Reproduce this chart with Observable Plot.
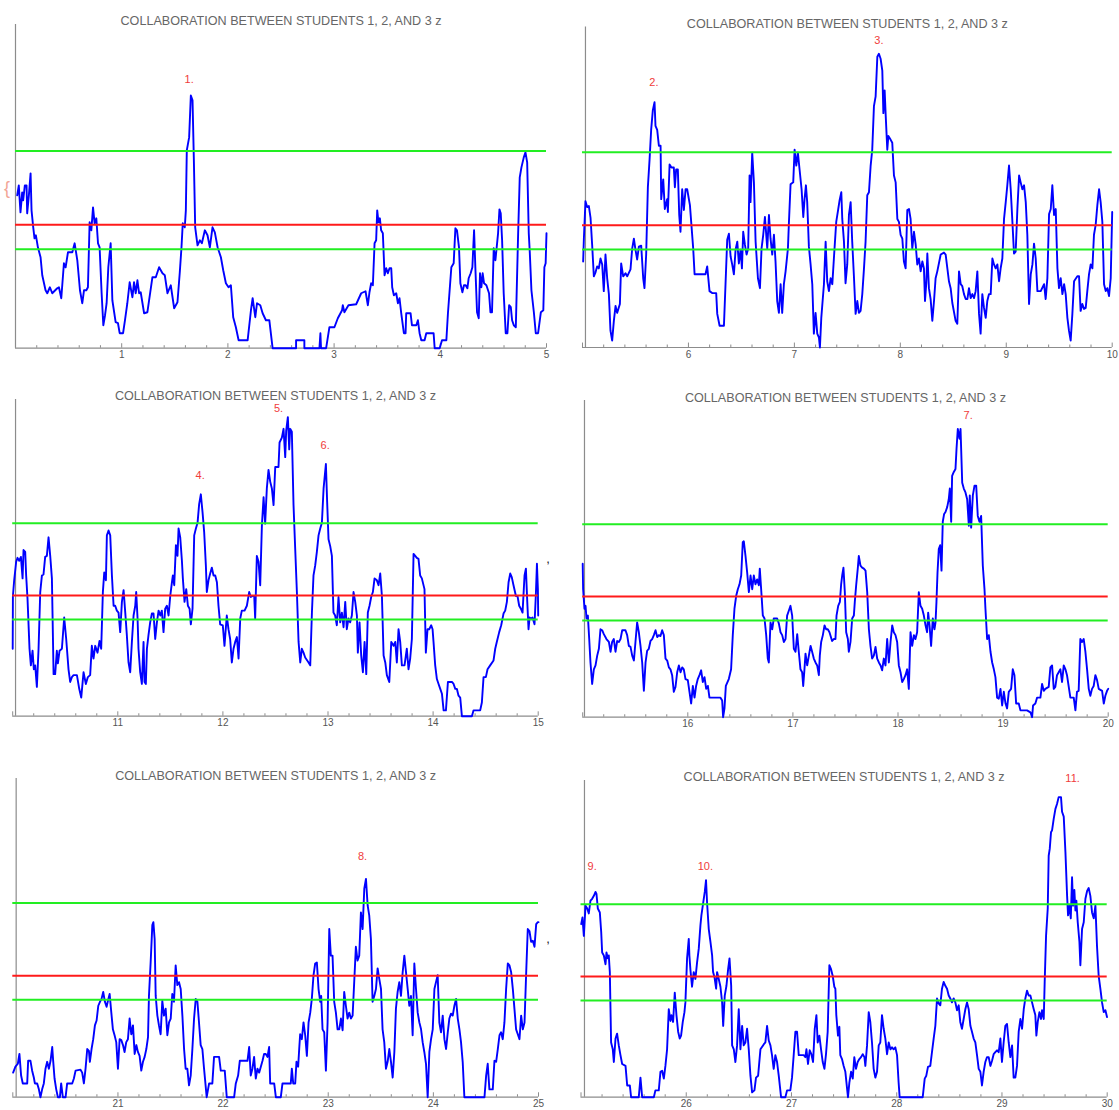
<!DOCTYPE html>
<html><head><meta charset="utf-8">
<script src="https://cdn.jsdelivr.net/npm/d3@7"></script>
<script src="https://cdn.jsdelivr.net/npm/@observablehq/plot@0.6"></script>
<style>
html,body{margin:0;padding:0;background:#fff;}
#root{position:relative;width:1119px;height:1110px;overflow:hidden;background:#fff;}
.panel{position:absolute;}
.panel svg{overflow:visible;}
.note{position:absolute;font-family:"Liberation Sans",Arial,sans-serif;line-height:1;transform:translate(-50%,-50%);}
</style></head><body><div id="root"></div>
<script>
const chartTitle = "COLLABORATION BETWEEN STUDENTS 1, 2, AND 3 z";
const greenLevels = [0.99, 1.975];
const redLevels = [1.235];
const yMax = 3.24;

const xRanges = [[0,5],[5,10],[10,15],[15,20],[20,25],[25,30]];
const yAxisAt = [0, 5.028, 10.027, 15.017, 20.032, 25.033];
const tickLabels = [[1,2,3,4,5],[6,7,8,9,10],[11,12,13,14,15],[16,17,18,19,20],[21,22,23,24,25],[26,27,28,29,30]];

const peakText = ["1.","2.","3.","4.","5.","6.","7.","8.","9.","10.","11."];
const peakPanel = [0,1,1,2,2,2,3,4,5,5,5];
const peakX = [1.635,5.674,7.798,11.784,12.529,12.973,18.668,23.327,25.106,26.182,29.671];
const peakY = [2.69,2.68,3.10,2.46,3.15,2.77,3.09,2.45,2.36,2.36,3.26];

const series1 = [[0.016,1.53],[0.031,1.63],[0.047,1.36],[0.063,1.56],[0.072,1.48],[0.088,1.63],[0.104,1.63],[0.110,1.35],[0.126,1.53],[0.142,1.75],[0.151,1.38],[0.167,1.21],[0.179,1.10],[0.192,1.13],[0.211,1.01],[0.236,0.91],[0.252,0.73],[0.283,0.58],[0.299,0.55],[0.324,0.61],[0.346,0.55],[0.393,0.60],[0.409,0.61],[0.431,0.50],[0.456,0.85],[0.472,0.81],[0.494,0.96],[0.535,0.96],[0.557,1.05],[0.582,0.88],[0.607,0.58],[0.629,0.45],[0.645,0.58],[0.667,0.58],[0.682,0.61],[0.698,1.26],[0.714,1.18],[0.730,1.41],[0.745,1.25],[0.761,1.30],[0.777,1.05],[0.792,1.01],[0.811,0.55],[0.827,0.23],[0.843,0.33],[0.858,0.45],[0.874,0.81],[0.896,1.05],[0.912,0.48],[0.943,0.26],[0.965,0.25],[0.981,0.15],[1.013,0.15],[1.031,0.28],[1.053,0.45],[1.075,0.66],[1.101,0.51],[1.116,0.66],[1.132,0.55],[1.148,0.68],[1.164,0.55],[1.179,0.56],[1.211,0.35],[1.242,0.36],[1.289,0.71],[1.321,0.71],[1.352,0.81],[1.384,0.75],[1.406,0.73],[1.431,0.55],[1.462,0.63],[1.494,0.40],[1.525,0.46],[1.547,0.76],[1.563,1.01],[1.575,1.25],[1.594,1.21],[1.604,1.38],[1.613,1.98],[1.635,2.11],[1.651,2.53],[1.667,2.48],[1.679,1.91],[1.692,1.21],[1.714,1.03],[1.736,1.08],[1.755,1.05],[1.783,1.18],[1.808,1.13],[1.830,1.01],[1.855,1.21],[1.877,1.16],[1.903,1.01],[1.934,0.91],[1.956,0.78],[1.981,0.65],[2.006,0.61],[2.028,0.63],[2.050,0.31],[2.075,0.21],[2.101,0.08],[2.186,0.08],[2.217,0.38],[2.233,0.50],[2.258,0.31],[2.274,0.45],[2.305,0.43],[2.327,0.35],[2.358,0.28],[2.390,0.28],[2.421,0],[2.642,0],[2.642,0.08],[2.720,0.08],[2.720,0],[2.862,0],[2.871,0.15],[2.877,0],[2.925,0],[2.956,0.21],[3.003,0.21],[3.035,0.30],[3.075,0.38],[3.082,0.43],[3.097,0.36],[3.135,0.43],[3.208,0.44],[3.255,0.55],[3.296,0.57],[3.318,0.43],[3.333,0.56],[3.349,0.65],[3.365,0.63],[3.381,1.05],[3.396,1.08],[3.406,1.38],[3.418,1.26],[3.431,1.30],[3.443,1.18],[3.459,1.15],[3.475,0.73],[3.491,0.80],[3.506,0.75],[3.522,0.80],[3.538,0.80],[3.547,0.61],[3.563,0.53],[3.585,0.55],[3.601,0.45],[3.616,0.50],[3.632,0.35],[3.657,0.15],[3.673,0.15],[3.679,0.35],[3.720,0.35],[3.733,0.23],[3.774,0.23],[3.789,0.28],[3.805,0.15],[3.821,0.08],[3.852,0.08],[3.868,0.15],[3.937,0.15],[3.947,0],[3.994,0],[4.016,0.08],[4.057,0.08],[4.072,0.35],[4.104,0.81],[4.126,0.85],[4.142,1.20],[4.157,1.18],[4.176,1.01],[4.189,0.65],[4.208,0.56],[4.223,0.63],[4.239,0.63],[4.255,0.60],[4.267,0.70],[4.286,0.75],[4.302,0.81],[4.318,1.18],[4.330,0.81],[4.346,0.36],[4.362,0.30],[4.374,0.75],[4.387,0.61],[4.399,0.75],[4.412,0.65],[4.434,0.63],[4.459,0.55],[4.472,0.36],[4.487,0.36],[4.503,1.00],[4.519,0.88],[4.531,1.01],[4.544,1.15],[4.557,1.39],[4.569,1.35],[4.582,1.08],[4.597,0.55],[4.616,0.15],[4.632,0.15],[4.648,0.43],[4.664,0.41],[4.676,0.28],[4.692,0.23],[4.711,0.21],[4.733,1.15],[4.748,1.71],[4.764,1.81],[4.786,1.91],[4.802,1.96],[4.818,1.86],[4.833,1.15],[4.843,0.95],[4.858,0.58],[4.881,0.36],[4.899,0.15],[4.921,0.15],[4.947,0.36],[4.970,0.38],[4.980,0.81],[4.992,0.85],[5.0,1.15]];

const series2 = [[5.006,0.87],[5.013,1.10],[5.028,1.48],[5.044,1.42],[5.060,1.43],[5.076,1.31],[5.091,1.04],[5.107,0.72],[5.123,0.76],[5.138,0.82],[5.154,0.80],[5.170,0.90],[5.186,0.84],[5.201,0.57],[5.217,0.94],[5.233,0.70],[5.249,0.54],[5.264,0.17],[5.280,0.07],[5.296,0.27],[5.312,0.42],[5.327,0.35],[5.353,0.44],[5.365,0.85],[5.384,0.72],[5.406,0.75],[5.422,0.72],[5.453,0.79],[5.469,1.00],[5.485,1.10],[5.500,0.99],[5.516,0.89],[5.532,1.02],[5.554,1.03],[5.573,0.70],[5.585,0.60],[5.601,0.94],[5.617,1.62],[5.633,1.90],[5.648,2.20],[5.664,2.40],[5.680,2.48],[5.689,2.24],[5.705,2.20],[5.721,2.04],[5.737,2.04],[5.743,1.50],[5.762,1.70],[5.777,1.40],[5.799,1.50],[5.806,1.37],[5.822,1.85],[5.840,1.82],[5.862,1.82],[5.872,1.62],[5.884,1.80],[5.900,1.80],[5.913,1.34],[5.925,1.17],[5.941,1.60],[5.957,1.39],[5.973,1.60],[5.988,1.60],[6.014,1.44],[6.045,1.00],[6.058,0.74],[6.161,0.74],[6.177,0.82],[6.199,0.57],[6.224,0.55],[6.262,0.55],[6.272,0.34],[6.294,0.22],[6.335,0.22],[6.350,0.64],[6.366,1.09],[6.382,1.15],[6.398,0.92],[6.413,0.84],[6.429,0.74],[6.445,0.99],[6.461,1.07],[6.476,0.85],[6.492,0.99],[6.505,0.80],[6.517,1.17],[6.533,1.04],[6.549,0.94],[6.564,1.00],[6.577,1.74],[6.586,1.47],[6.602,1.97],[6.618,1.67],[6.634,1.07],[6.656,0.70],[6.675,0.60],[6.690,1.00],[6.706,1.14],[6.722,1.32],[6.744,1.00],[6.760,1.34],[6.775,1.10],[6.791,0.94],[6.807,1.14],[6.822,0.87],[6.838,0.47],[6.854,0.35],[6.870,0.64],[6.885,0.35],[6.901,0.64],[6.917,0.77],[6.939,1.00],[6.948,1.25],[6.964,1.65],[6.989,1.67],[7.002,2.00],[7.018,1.84],[7.033,1.97],[7.049,1.80],[7.068,1.60],[7.084,1.32],[7.096,1.50],[7.109,1.64],[7.121,1.47],[7.137,1.02],[7.153,0.84],[7.169,0.64],[7.184,0.14],[7.200,0.35],[7.216,0.14],[7.232,0.10],[7.241,0.0],[7.254,0.30],[7.279,0.64],[7.295,1.07],[7.310,0.67],[7.326,0.57],[7.342,0.70],[7.358,0.64],[7.373,0.90],[7.395,1.27],[7.414,1.40],[7.427,1.49],[7.443,1.57],[7.452,1.30],[7.468,1.07],[7.483,0.65],[7.499,0.84],[7.515,1.34],[7.531,1.47],[7.546,1.07],[7.562,0.72],[7.578,0.34],[7.594,0.47],[7.609,0.35],[7.625,0.37],[7.641,0.54],[7.657,0.80],[7.672,1.07],[7.688,1.54],[7.704,1.57],[7.720,1.84],[7.735,2.00],[7.751,2.44],[7.767,2.54],[7.783,2.94],[7.798,2.97],[7.814,2.92],[7.830,2.80],[7.840,2.37],[7.852,2.60],[7.861,2.37],[7.877,2.00],[7.887,2.14],[7.909,2.10],[7.924,2.07],[7.940,1.74],[7.956,1.67],[7.972,1.30],[7.987,1.27],[8.003,1.14],[8.019,1.10],[8.034,0.87],[8.050,0.80],[8.066,1.39],[8.082,1.40],[8.097,1.30],[8.113,1.00],[8.129,1.17],[8.145,1.04],[8.160,0.84],[8.176,0.90],[8.192,0.77],[8.208,0.87],[8.223,0.80],[8.233,0.47],[8.245,0.65],[8.255,0.95],[8.270,0.60],[8.286,0.49],[8.302,0.27],[8.318,0.47],[8.333,0.70],[8.349,0.77],[8.381,0.94],[8.412,0.96],[8.428,0.94],[8.444,0.80],[8.459,0.67],[8.475,0.60],[8.491,0.45],[8.522,0.27],[8.538,0.24],[8.554,0.77],[8.570,0.64],[8.585,0.62],[8.601,0.54],[8.617,0.49],[8.633,0.49],[8.648,0.60],[8.664,0.50],[8.680,0.54],[8.696,0.50],[8.711,0.57],[8.727,0.77],[8.743,0.34],[8.758,0.14],[8.774,0.54],[8.790,0.40],[8.806,0.30],[8.821,0.47],[8.837,0.54],[8.853,0.54],[8.869,0.90],[8.884,0.84],[8.900,0.80],[8.916,0.84],[8.932,0.67],[8.947,0.80],[8.963,0.90],[8.979,1.30],[8.995,1.47],[9.010,1.64],[9.026,1.84],[9.042,1.60],[9.058,1.27],[9.073,0.95],[9.089,0.97],[9.105,1.40],[9.121,1.74],[9.136,1.67],[9.152,1.60],[9.168,1.64],[9.184,1.47],[9.199,1.14],[9.215,0.44],[9.231,0.74],[9.247,0.84],[9.262,1.05],[9.278,0.90],[9.294,0.57],[9.325,0.57],[9.357,0.64],[9.372,0.49],[9.388,0.70],[9.404,1.35],[9.420,1.40],[9.435,1.64],[9.451,1.34],[9.467,1.40],[9.483,0.80],[9.498,0.60],[9.514,0.70],[9.530,0.54],[9.546,0.64],[9.561,0.54],[9.577,0.30],[9.592,0.17],[9.608,0.07],[9.624,0.34],[9.640,0.67],[9.671,0.72],[9.687,0.72],[9.702,0.37],[9.718,0.44],[9.734,0.39],[9.750,0.40],[9.765,0.57],[9.781,0.74],[9.797,0.84],[9.813,0.80],[9.828,1.14],[9.844,1.24],[9.860,1.44],[9.876,1.60],[9.891,1.47],[9.907,1.27],[9.923,0.64],[9.939,0.57],[9.954,0.60],[9.970,0.52],[9.986,0.70],[10.0,1.37]];

const series3 = [[10.0,0.69],[10.002,1.23],[10.014,1.39],[10.033,1.58],[10.046,1.62],[10.062,1.59],[10.078,1.63],[10.094,1.41],[10.103,1.70],[10.119,1.68],[10.128,1.44],[10.141,1.20],[10.160,0.69],[10.173,0.52],[10.189,0.67],[10.201,0.48],[10.214,0.52],[10.230,0.30],[10.246,0.69],[10.262,1.27],[10.278,1.44],[10.293,1.45],[10.309,1.63],[10.325,1.64],[10.341,1.83],[10.357,1.64],[10.373,1.41],[10.389,0.43],[10.404,0.43],[10.420,0.67],[10.430,0.54],[10.446,0.67],[10.468,0.69],[10.490,1.01],[10.509,0.79],[10.531,0.48],[10.547,0.35],[10.563,0.40],[10.579,0.42],[10.611,0.42],[10.633,0.28],[10.652,0.19],[10.674,0.45],[10.696,0.33],[10.715,0.40],[10.737,0.42],[10.753,0.72],[10.769,0.59],[10.785,0.72],[10.807,0.65],[10.826,0.77],[10.842,0.69],[10.858,1.27],[10.871,1.47],[10.887,1.39],[10.896,1.85],[10.912,1.90],[10.928,1.85],[10.944,1.44],[10.960,1.13],[10.975,1.13],[10.991,1.08],[11.007,1.06],[11.023,0.86],[11.039,1.17],[11.055,1.29],[11.071,1.06],[11.086,0.83],[11.102,0.55],[11.118,0.45],[11.134,0.76],[11.150,1.03],[11.166,1.13],[11.175,1.27],[11.188,1.00],[11.197,0.69],[11.213,0.45],[11.229,0.33],[11.245,0.76],[11.254,0.35],[11.267,0.33],[11.277,0.69],[11.292,0.83],[11.308,0.96],[11.324,1.05],[11.340,1.05],[11.356,0.79],[11.372,0.96],[11.388,1.08],[11.404,1.03],[11.419,1.08],[11.435,0.86],[11.451,1.10],[11.467,1.13],[11.483,1.03],[11.499,1.23],[11.515,1.37],[11.524,1.44],[11.537,1.34],[11.553,1.75],[11.568,1.64],[11.578,1.92],[11.594,1.83],[11.610,1.59],[11.619,1.41],[11.635,1.17],[11.651,1.30],[11.667,1.13],[11.683,1.10],[11.695,0.94],[11.711,1.10],[11.727,1.85],[11.743,1.92],[11.759,1.98],[11.774,2.17],[11.790,2.27],[11.806,2.09],[11.822,1.88],[11.838,1.54],[11.847,1.27],[11.863,1.39],[11.879,1.46],[11.895,1.52],[11.911,1.44],[11.927,1.44],[11.943,1.37],[11.958,1.13],[11.974,0.94],[11.999,0.93],[12.015,0.72],[12.037,1.03],[12.053,0.89],[12.069,0.79],[12.085,0.55],[12.101,0.69],[12.117,0.76],[12.133,0.81],[12.149,0.59],[12.165,1.00],[12.180,1.08],[12.206,1.08],[12.228,1.13],[12.250,1.27],[12.266,1.22],[12.282,1.23],[12.298,1.23],[12.307,1.00],[12.323,1.64],[12.339,1.58],[12.355,1.34],[12.371,1.95],[12.387,2.24],[12.402,1.97],[12.418,2.33],[12.434,2.52],[12.450,2.40],[12.466,2.33],[12.482,2.16],[12.498,2.55],[12.529,2.55],[12.539,2.80],[12.561,2.85],[12.577,2.94],[12.593,2.65],[12.602,2.92],[12.618,3.06],[12.631,2.73],[12.640,2.94],[12.656,2.91],[12.672,2.16],[12.688,1.71],[12.704,1.27],[12.720,0.76],[12.736,0.55],[12.751,0.69],[12.767,0.65],[12.783,0.60],[12.815,0.55],[12.831,0.52],[12.847,1.06],[12.862,1.44],[12.878,1.54],[12.894,1.68],[12.910,1.85],[12.926,1.92],[12.942,1.98],[12.958,2.33],[12.980,2.58],[12.992,2.19],[13.005,1.81],[13.021,1.74],[13.037,1.64],[13.052,1.06],[13.068,1.03],[13.084,0.93],[13.100,1.22],[13.116,0.96],[13.132,1.06],[13.148,0.91],[13.164,1.17],[13.179,0.89],[13.195,1.00],[13.211,0.96],[13.227,1.03],[13.243,1.27],[13.259,1.17],[13.275,1.03],[13.284,0.65],[13.300,0.96],[13.316,0.62],[13.332,0.45],[13.348,0.76],[13.364,0.43],[13.379,1.06],[13.395,1.13],[13.411,1.22],[13.427,1.27],[13.443,1.41],[13.465,1.39],[13.481,1.34],[13.497,1.46],[13.513,1.23],[13.529,0.62],[13.545,0.55],[13.560,0.42],[13.583,0.35],[13.602,0.76],[13.624,0.72],[13.640,0.76],[13.655,0.55],[13.671,0.89],[13.687,0.76],[13.703,0.52],[13.728,0.52],[13.750,0.69],[13.766,0.48],[13.782,0.59],[13.798,0.79],[13.814,1.66],[13.830,1.64],[13.845,1.62],[13.861,1.61],[13.877,1.44],[13.893,1.41],[13.918,1.30],[13.931,0.65],[13.947,0.89],[13.963,0.89],[13.982,0.93],[13.995,0.89],[14.004,0.76],[14.020,0.52],[14.036,0.38],[14.052,0.33],[14.068,0.28],[14.084,0.23],[14.100,0.06],[14.122,0.06],[14.141,0.35],[14.179,0.35],[14.195,0.33],[14.211,0.28],[14.226,0.28],[14.242,0.21],[14.258,0.19],[14.274,0.0],[14.369,0.0],[14.385,0.06],[14.448,0.06],[14.464,0.14],[14.480,0.40],[14.502,0.40],[14.518,0.48],[14.543,0.52],[14.575,0.57],[14.591,0.69],[14.606,0.76],[14.629,0.86],[14.648,0.93],[14.670,1.05],[14.686,1.08],[14.702,1.17],[14.718,1.37],[14.734,1.46],[14.749,1.42],[14.765,1.34],[14.788,1.23],[14.803,1.23],[14.819,1.13],[14.835,1.10],[14.851,1.06],[14.870,1.44],[14.883,1.51],[14.896,1.17],[14.908,0.89],[14.918,1.01],[14.931,1.00],[14.946,1.01],[14.965,0.94],[14.978,1.25],[14.988,1.56],[14.997,1.30],[15.0,1.03]];

const series4 = [[15.0,1.57],[15.004,1.31],[15.017,1.11],[15.027,1.14],[15.036,1.01],[15.049,1.04],[15.062,0.80],[15.074,0.56],[15.090,0.34],[15.106,0.49],[15.122,0.53],[15.138,0.63],[15.154,0.70],[15.169,0.90],[15.185,0.89],[15.201,0.85],[15.226,0.80],[15.249,0.77],[15.265,0.67],[15.280,0.77],[15.296,0.80],[15.312,0.67],[15.328,0.78],[15.344,0.77],[15.360,0.80],[15.376,0.89],[15.407,0.89],[15.423,0.84],[15.439,0.73],[15.455,0.72],[15.471,0.63],[15.487,0.58],[15.502,0.77],[15.518,0.97],[15.534,0.87],[15.550,0.73],[15.566,0.56],[15.582,0.27],[15.598,0.56],[15.613,0.68],[15.629,0.70],[15.645,0.78],[15.661,0.80],[15.677,0.84],[15.693,0.89],[15.709,0.82],[15.724,0.84],[15.740,0.83],[15.756,0.89],[15.772,0.84],[15.788,0.60],[15.804,0.58],[15.820,0.51],[15.835,0.49],[15.851,0.43],[15.867,0.26],[15.883,0.31],[15.899,0.46],[15.915,0.53],[15.931,0.46],[15.947,0.51],[15.962,0.49],[15.978,0.39],[16.000,0.38],[16.016,0.26],[16.032,0.14],[16.048,0.32],[16.064,0.20],[16.079,0.32],[16.095,0.39],[16.111,0.43],[16.127,0.48],[16.143,0.36],[16.159,0.41],[16.175,0.29],[16.191,0.32],[16.206,0.20],[16.232,0.20],[16.311,0.20],[16.327,0.17],[16.336,0.0],[16.349,0.09],[16.362,0.32],[16.390,0.39],[16.412,0.49],[16.428,0.84],[16.444,1.11],[16.460,1.24],[16.476,1.31],[16.492,1.36],[16.508,1.45],[16.523,1.79],[16.533,1.80],[16.549,1.65],[16.565,1.48],[16.581,1.28],[16.597,1.45],[16.613,1.31],[16.628,1.45],[16.644,1.36],[16.660,1.41],[16.676,1.35],[16.685,1.52],[16.698,1.31],[16.714,1.04],[16.730,1.01],[16.746,0.84],[16.761,0.60],[16.771,0.56],[16.787,0.97],[16.803,0.90],[16.818,1.01],[16.850,1.01],[16.866,0.96],[16.882,0.87],[16.898,0.84],[16.914,0.77],[16.930,0.80],[16.945,1.04],[16.961,1.09],[16.977,1.14],[16.993,1.04],[17.009,0.70],[17.025,0.67],[17.041,0.85],[17.056,0.67],[17.072,0.49],[17.088,0.46],[17.098,0.32],[17.110,0.49],[17.120,0.65],[17.136,0.53],[17.152,0.63],[17.168,0.73],[17.183,0.67],[17.199,0.60],[17.215,0.56],[17.231,0.53],[17.247,0.43],[17.256,0.63],[17.269,0.77],[17.285,0.84],[17.301,0.94],[17.316,0.90],[17.332,0.90],[17.348,0.87],[17.373,0.78],[17.389,0.80],[17.405,0.80],[17.415,1.04],[17.431,1.14],[17.447,1.18],[17.459,1.36],[17.469,1.45],[17.481,1.53],[17.494,1.28],[17.507,0.87],[17.523,0.80],[17.532,0.67],[17.548,0.77],[17.564,1.01],[17.580,1.04],[17.589,1.18],[17.602,1.35],[17.618,1.53],[17.627,1.65],[17.643,1.55],[17.659,1.53],[17.675,1.52],[17.691,1.50],[17.707,1.28],[17.723,0.90],[17.738,0.73],[17.754,0.60],[17.770,0.63],[17.786,0.72],[17.802,0.60],[17.818,0.56],[17.834,0.53],[17.849,0.48],[17.865,0.60],[17.881,0.53],[17.897,0.80],[17.913,0.56],[17.929,0.77],[17.945,0.94],[17.960,0.87],[17.976,0.84],[17.992,0.77],[18.008,0.53],[18.024,0.46],[18.040,0.36],[18.055,0.39],[18.071,0.43],[18.087,0.49],[18.103,0.29],[18.119,0.87],[18.135,0.73],[18.151,0.84],[18.166,0.80],[18.182,0.87],[18.198,1.28],[18.214,1.14],[18.230,1.11],[18.246,1.04],[18.262,0.94],[18.277,0.87],[18.287,1.07],[18.300,0.94],[18.315,0.73],[18.331,1.01],[18.347,0.90],[18.357,0.97],[18.366,1.18],[18.376,1.48],[18.388,1.72],[18.401,1.76],[18.414,1.50],[18.426,2.00],[18.439,2.08],[18.452,2.10],[18.468,2.15],[18.483,2.23],[18.493,2.34],[18.506,2.00],[18.515,2.47],[18.531,2.51],[18.547,2.54],[18.557,2.75],[18.569,2.95],[18.585,2.85],[18.595,2.95],[18.611,2.40],[18.626,2.34],[18.642,2.30],[18.658,2.23],[18.674,1.96],[18.683,2.27],[18.696,1.94],[18.712,2.27],[18.728,2.37],[18.744,2.37],[18.759,2.06],[18.775,2.00],[18.791,2.06],[18.807,1.55],[18.823,1.31],[18.832,1.11],[18.848,0.80],[18.864,0.84],[18.880,0.67],[18.896,0.56],[18.912,0.49],[18.927,0.41],[18.943,0.20],[18.959,0.19],[18.975,0.29],[18.991,0.12],[19.007,0.26],[19.023,0.14],[19.038,0.09],[19.054,0.26],[19.076,0.29],[19.092,0.49],[19.108,0.43],[19.124,0.14],[19.149,0.14],[19.165,0.07],[19.228,0.07],[19.260,0.05],[19.276,0.0],[19.285,0.12],[19.307,0.14],[19.323,0.20],[19.355,0.20],[19.371,0.34],[19.387,0.27],[19.402,0.29],[19.434,0.31],[19.450,0.51],[19.466,0.53],[19.482,0.29],[19.497,0.31],[19.513,0.43],[19.529,0.46],[19.545,0.49],[19.561,0.36],[19.577,0.53],[19.593,0.49],[19.608,0.43],[19.640,0.20],[19.672,0.20],[19.688,0.07],[19.703,0.26],[19.719,0.27],[19.735,0.80],[19.751,0.77],[19.767,0.80],[19.783,0.67],[19.799,0.49],[19.815,0.29],[19.830,0.22],[19.846,0.29],[19.862,0.32],[19.878,0.43],[19.894,0.38],[19.910,0.29],[19.942,0.27],[19.958,0.14],[19.973,0.22],[19.989,0.27],[20.0,0.29]];

const series5 = [[20.003,0.25],[20.025,0.31],[20.048,0.34],[20.063,0.44],[20.079,0.22],[20.095,0.14],[20.121,0.14],[20.137,0.14],[20.146,0.37],[20.168,0.37],[20.184,0.27],[20.200,0.20],[20.210,0.14],[20.232,0.14],[20.248,0.08],[20.263,0.0],[20.279,0.08],[20.295,0.14],[20.311,0.29],[20.327,0.36],[20.343,0.29],[20.359,0.37],[20.375,0.51],[20.384,0.37],[20.397,0.19],[20.413,0.08],[20.429,0.0],[20.448,0.0],[20.460,0.14],[20.476,0.0],[20.502,0.0],[20.517,0.14],[20.565,0.14],[20.581,0.19],[20.597,0.27],[20.644,0.28],[20.660,0.25],[20.676,0.14],[20.692,0.29],[20.708,0.49],[20.724,0.47],[20.733,0.36],[20.749,0.49],[20.765,0.59],[20.781,0.73],[20.797,0.78],[20.813,0.93],[20.829,0.97],[20.844,1.00],[20.860,1.07],[20.876,0.97],[20.892,0.92],[20.905,0.98],[20.921,1.05],[20.937,0.86],[20.952,0.69],[20.968,0.63],[20.984,0.56],[21.000,0.29],[21.016,0.59],[21.032,0.58],[21.048,0.53],[21.063,0.46],[21.079,0.56],[21.095,0.59],[21.111,0.80],[21.127,0.64],[21.143,0.73],[21.159,0.44],[21.175,0.53],[21.190,0.46],[21.206,0.42],[21.222,0.27],[21.238,0.36],[21.254,0.41],[21.270,0.49],[21.286,0.61],[21.295,1.03],[21.311,1.37],[21.327,1.75],[21.337,1.78],[21.349,1.61],[21.359,1.03],[21.375,0.83],[21.390,0.73],[21.406,0.64],[21.422,0.98],[21.438,0.83],[21.454,0.90],[21.470,0.63],[21.486,0.76],[21.502,0.80],[21.517,1.05],[21.533,0.97],[21.549,1.34],[21.565,1.14],[21.581,1.17],[21.597,1.10],[21.613,0.83],[21.629,0.49],[21.644,0.29],[21.660,0.29],[21.676,0.12],[21.692,0.22],[21.708,0.49],[21.724,0.80],[21.740,1.00],[21.756,0.97],[21.771,0.76],[21.787,0.53],[21.803,0.49],[21.819,0.29],[21.844,0.0],[21.867,0.14],[21.898,0.14],[21.914,0.41],[21.962,0.41],[21.978,0.27],[22.016,0.27],[22.035,0.0],[22.105,0.0],[22.121,0.14],[22.143,0.22],[22.159,0.37],[22.232,0.37],[22.248,0.51],[22.263,0.22],[22.279,0.29],[22.295,0.41],[22.311,0.19],[22.327,0.29],[22.343,0.25],[22.359,0.31],[22.375,0.37],[22.390,0.44],[22.406,0.44],[22.422,0.41],[22.438,0.51],[22.448,0.14],[22.486,0.14],[22.502,0.0],[22.549,0.0],[22.565,0.14],[22.644,0.14],[22.654,0.29],[22.667,0.14],[22.686,0.14],[22.698,0.36],[22.714,0.31],[22.724,0.49],[22.733,0.64],[22.749,0.59],[22.765,0.76],[22.781,0.63],[22.797,0.42],[22.813,0.76],[22.829,0.86],[22.844,1.00],[22.860,1.24],[22.876,1.36],[22.892,1.37],[22.908,1.10],[22.924,0.97],[22.933,1.03],[22.946,0.69],[22.962,0.66],[22.978,0.27],[22.994,0.76],[23.010,1.71],[23.025,1.44],[23.041,1.44],[23.057,0.97],[23.073,0.86],[23.089,0.69],[23.105,0.69],[23.121,0.80],[23.137,0.68],[23.152,1.07],[23.168,0.93],[23.184,0.80],[23.200,0.86],[23.216,0.80],[23.232,0.83],[23.248,1.19],[23.263,1.53],[23.279,1.39],[23.295,1.44],[23.311,1.88],[23.327,1.71],[23.343,2.12],[23.359,2.22],[23.375,1.95],[23.390,1.85],[23.406,1.61],[23.422,0.97],[23.438,1.03],[23.454,1.10],[23.470,1.31],[23.486,1.20],[23.502,1.10],[23.517,0.69],[23.533,0.56],[23.549,0.29],[23.565,0.36],[23.581,0.49],[23.597,0.36],[23.613,0.20],[23.629,0.46],[23.644,0.90],[23.660,1.07],[23.676,1.17],[23.692,1.03],[23.708,1.27],[23.724,1.44],[23.740,1.27],[23.756,1.10],[23.771,0.93],[23.787,1.03],[23.803,0.63],[23.819,1.36],[23.835,1.10],[23.851,0.86],[23.867,0.76],[23.883,0.69],[23.898,0.56],[23.914,0.46],[23.930,0.34],[23.946,0.0],[23.962,0.46],[23.978,0.59],[23.994,0.69],[24.010,1.10],[24.025,1.17],[24.041,1.24],[24.057,0.76],[24.073,0.66],[24.089,0.83],[24.105,0.59],[24.121,0.49],[24.137,0.66],[24.152,0.80],[24.168,0.85],[24.184,0.83],[24.200,0.93],[24.216,1.00],[24.232,0.80],[24.248,0.69],[24.263,0.56],[24.279,0.36],[24.295,0.0],[24.486,0.0],[24.502,0.22],[24.517,0.34],[24.533,0.08],[24.565,0.08],[24.581,0.37],[24.597,0.36],[24.613,0.49],[24.629,0.63],[24.644,0.66],[24.660,0.59],[24.676,0.76],[24.692,1.10],[24.708,1.36],[24.724,1.34],[24.740,1.27],[24.756,1.10],[24.771,0.90],[24.787,0.69],[24.803,0.64],[24.819,0.59],[24.835,0.83],[24.851,0.69],[24.867,0.76],[24.883,1.27],[24.898,1.71],[24.914,1.69],[24.930,1.58],[24.946,1.59],[24.962,1.53],[24.978,1.76],[24.994,1.78],[25.0,1.78]];

const series6 = [[25.002,1.77],[25.014,1.84],[25.027,1.65],[25.043,1.96],[25.059,1.93],[25.074,1.88],[25.090,2.01],[25.106,2.03],[25.122,2.06],[25.138,2.10],[25.147,2.08],[25.160,1.93],[25.179,1.89],[25.192,1.69],[25.201,1.48],[25.217,1.45],[25.233,1.36],[25.242,1.48],[25.255,1.42],[25.264,1.45],[25.274,1.28],[25.286,0.56],[25.302,0.49],[25.312,0.36],[25.328,0.60],[25.343,0.65],[25.359,0.53],[25.375,0.43],[25.391,0.34],[25.423,0.32],[25.439,0.12],[25.464,0.12],[25.476,0.0],[25.549,0.0],[25.565,0.20],[25.581,0.0],[25.692,0.0],[25.707,0.07],[25.739,0.07],[25.755,0.26],[25.771,0.27],[25.787,0.19],[25.802,0.32],[25.818,0.49],[25.834,0.90],[25.850,0.78],[25.859,0.84],[25.875,0.77],[25.891,1.07],[25.907,0.84],[25.923,0.67],[25.938,0.60],[25.951,0.63],[25.967,0.77],[25.983,0.87],[25.992,0.97],[26.008,1.42],[26.024,1.62],[26.030,1.45],[26.040,1.30],[26.055,1.13],[26.071,1.28],[26.087,1.21],[26.103,1.38],[26.119,1.52],[26.135,1.76],[26.144,1.86],[26.160,1.98],[26.176,2.10],[26.188,2.22],[26.198,1.99],[26.214,1.72],[26.230,1.59],[26.246,1.45],[26.255,1.28],[26.268,1.23],[26.284,1.11],[26.293,1.28],[26.309,1.21],[26.325,1.13],[26.341,0.97],[26.351,0.73],[26.366,1.04],[26.382,1.14],[26.398,1.31],[26.411,1.42],[26.427,1.14],[26.436,0.53],[26.452,0.49],[26.467,0.36],[26.483,0.53],[26.499,0.90],[26.515,0.49],[26.531,0.73],[26.546,0.53],[26.562,0.56],[26.578,0.70],[26.594,0.49],[26.610,0.22],[26.626,0.05],[26.648,0.07],[26.663,0.20],[26.683,0.22],[26.705,0.49],[26.736,0.54],[26.752,0.56],[26.768,0.73],[26.784,0.58],[26.800,0.53],[26.815,0.43],[26.831,0.29],[26.847,0.43],[26.863,0.36],[26.879,0.22],[26.901,0.0],[26.942,0.0],[26.958,0.07],[26.989,0.07],[27.005,0.20],[27.021,0.43],[27.037,0.67],[27.053,0.67],[27.069,0.43],[27.116,0.43],[27.132,0.41],[27.142,0.49],[27.157,0.34],[27.173,0.48],[27.189,0.44],[27.205,0.36],[27.221,0.70],[27.237,0.84],[27.249,0.56],[27.265,0.63],[27.281,0.49],[27.297,0.36],[27.313,0.29],[27.328,0.44],[27.344,0.67],[27.360,1.35],[27.376,1.31],[27.392,1.24],[27.407,1.13],[27.417,1.11],[27.426,0.84],[27.442,0.63],[27.455,0.72],[27.464,0.43],[27.480,0.39],[27.496,0.32],[27.512,0.26],[27.528,0.09],[27.537,0.0],[27.550,0.15],[27.566,0.26],[27.582,0.19],[27.597,0.41],[27.613,0.29],[27.629,0.36],[27.645,0.39],[27.661,0.41],[27.677,0.44],[27.693,0.41],[27.702,0.32],[27.718,0.53],[27.734,0.87],[27.749,0.77],[27.765,0.56],[27.781,0.29],[27.797,0.20],[27.813,0.26],[27.829,0.53],[27.844,0.56],[27.860,0.84],[27.876,0.70],[27.892,0.60],[27.908,0.44],[27.924,0.56],[27.940,0.49],[27.955,0.51],[27.971,0.49],[27.987,0.51],[28.003,0.43],[28.018,0.15],[28.028,0.0],[28.247,0.0],[28.266,0.19],[28.281,0.22],[28.297,0.31],[28.319,0.32],[28.335,0.46],[28.351,0.60],[28.367,0.73],[28.383,1.01],[28.398,0.96],[28.414,0.94],[28.430,1.11],[28.446,1.18],[28.462,1.14],[28.478,1.11],[28.494,1.04],[28.509,1.01],[28.525,0.97],[28.541,1.01],[28.557,0.97],[28.573,0.89],[28.589,0.94],[28.604,0.77],[28.620,0.70],[28.636,0.80],[28.652,0.90],[28.668,0.97],[28.684,0.90],[28.700,0.73],[28.715,0.67],[28.731,0.60],[28.747,0.56],[28.763,0.43],[28.779,0.29],[28.795,0.26],[28.810,0.12],[28.826,0.26],[28.842,0.36],[28.858,0.41],[28.874,0.41],[28.890,0.32],[28.905,0.37],[28.921,0.44],[28.937,0.46],[28.953,0.48],[28.969,0.46],[28.985,0.60],[29.000,0.36],[29.016,0.56],[29.032,0.73],[29.048,0.75],[29.064,0.56],[29.080,0.41],[29.096,0.53],[29.111,0.20],[29.127,0.20],[29.143,0.32],[29.159,0.67],[29.175,0.80],[29.191,0.70],[29.207,0.90],[29.222,1.01],[29.238,1.09],[29.254,1.04],[29.270,1.04],[29.286,0.97],[29.302,0.90],[29.317,0.84],[29.327,0.63],[29.340,0.77],[29.356,0.87],[29.371,0.80],[29.381,0.89],[29.397,0.80],[29.406,1.18],[29.419,1.65],[29.435,1.93],[29.444,2.47],[29.454,2.54],[29.466,2.71],[29.476,2.73],[29.492,2.85],[29.508,2.95],[29.523,3.00],[29.539,3.07],[29.561,3.07],[29.571,2.92],[29.587,2.87],[29.603,2.51],[29.619,2.06],[29.628,1.86],[29.641,1.96],[29.654,1.83],[29.666,2.25],[29.676,1.96],[29.688,2.12],[29.698,1.91],[29.707,2.01],[29.720,1.79],[29.736,1.59],[29.745,1.35],[29.761,1.72],[29.777,1.79],[29.793,2.03],[29.809,2.11],[29.824,2.14],[29.840,2.06],[29.856,1.89],[29.872,1.83],[29.888,1.96],[29.903,1.55],[29.919,1.24],[29.935,1.11],[29.951,0.97],[29.967,0.87],[29.983,0.89],[29.998,0.82]];

const allSeries = [series1, series2, series3, series4, series5, series6];

// layout of each panel on the page (pixels)
const boxes = [
  {left:0,   top:0,   width:560, height:372, mL:15,   mR:14,   mT:24,   mB:24.3},
  {left:565, top:0,   width:554, height:372, mL:17,   mR:7.3,  mT:26.6, mB:25},
  {left:0,   top:375, width:560, height:365, mL:12.2, mR:22.3, mT:24,   mB:24.3},
  {left:565, top:375, width:554, height:365, mL:17.2, mR:11.3, mT:25.1, mB:23.3},
  {left:0,   top:755, width:560, height:355, mL:12.3, mR:22,   mT:23.1, mB:13.3},
  {left:565, top:755, width:554, height:355, mL:15.5, mR:12.3, mT:25,   mB:13.3}
];

const FONT = "'Liberation Sans', Arial, sans-serif";
const AXIS = "#8c8c8c";
const root = document.getElementById("root");

boxes.forEach((b, i) => {
  const [x0, x1] = xRanges[i];
  const pts = allSeries[i].map(([x, y]) => ({x, y}));
  const major = d3.range(x0, x1 + 0.001, 1);
  const minor = d3.range(x0, x1 + 0.001, 0.2).filter(v => Math.abs(v - Math.round(v)) > 0.01);
  const labels = peakText.map((t, k) => ({t, x: peakX[k], y: peakY[k], p: peakPanel[k]})).filter(d => d.p === i);
  const chart = Plot.plot({
    width: b.width, height: b.height,
    marginLeft: b.mL, marginRight: b.mR, marginTop: b.mT, marginBottom: b.mB,
    x: {domain: [x0, x1], axis: null},
    y: {domain: [0, yMax], axis: null},
    style: {background: "transparent", fontFamily: FONT, overflow: "visible"},
    marks: [
      Plot.ruleX([yAxisAt[i]], {stroke: AXIS, strokeWidth: 1.2}),
      Plot.ruleY([0], {stroke: AXIS, strokeWidth: 1.2}),
      Plot.ruleX(major, {y1: 0, y2: 0.045, stroke: AXIS, strokeWidth: 1}),
      Plot.ruleX(minor, {y1: 0, y2: 0.025, stroke: AXIS, strokeWidth: 1}),
      Plot.text(tickLabels[i], {x: d => d, frameAnchor: "bottom", dy: 10, fontSize: 10, fill: "#555"}),
      Plot.line(pts, {x: "x", y: "y", stroke: "#0000ff", strokeWidth: 1.9, strokeLinejoin: "round"}),
      Plot.ruleY(greenLevels, {stroke: "#22ee22", strokeWidth: 2}),
      Plot.ruleY(redLevels, {stroke: "#ff1a1a", strokeWidth: 2}),
      Plot.text([chartTitle], {frameAnchor: "top", dy: -8, fontSize: 12.6, fill: "#666"}),
      Plot.text(labels, {x: "x", y: "y", text: "t", fill: "#f03c3c", fontSize: 11})
    ]
  });
  const div = document.createElement("div");
  div.className = "panel";
  div.style.left = b.left + "px";
  div.style.top = b.top + "px";
  div.appendChild(chart);
  root.appendChild(div);
});

// small stray marks seen in the original
const notes = [
  {t: "{", left: 7, top: 188, size: 18, color: "#f2a595"},
  {t: ",", left: 548, top: 558, size: 13, color: "#222"},
  {t: ",", left: 548, top: 938, size: 13, color: "#222"}
];
notes.forEach(n => {
  const d = document.createElement("div");
  d.className = "note";
  d.textContent = n.t;
  d.style.left = n.left + "px";
  d.style.top = n.top + "px";
  d.style.fontSize = n.size + "px";
  d.style.color = n.color;
  root.appendChild(d);
});
</script></body></html>
